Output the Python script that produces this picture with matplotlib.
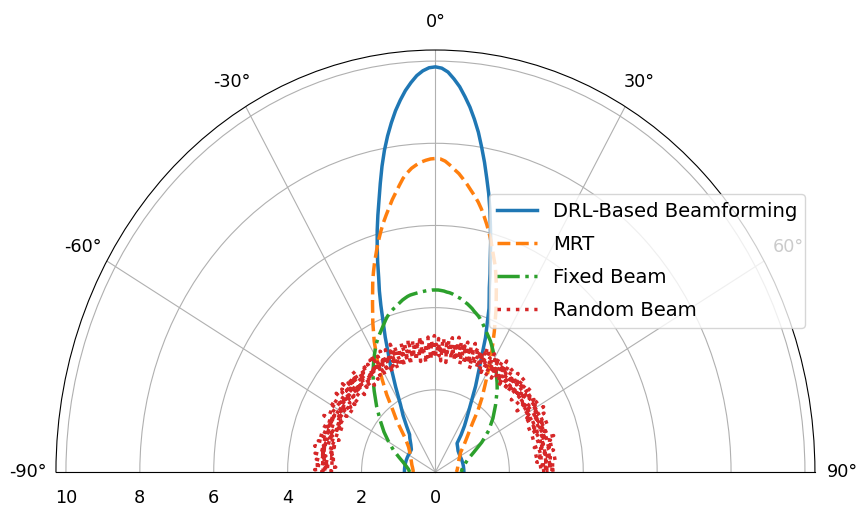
import numpy as np
import matplotlib
matplotlib.use("Agg")
import matplotlib.pyplot as plt

# ---- data ----
angles_deg = ([-90, -85, -80, -75, -70, -65, -60, -55, -50, -45, -40,
               -37.5, -35, -32.5, -30, -27.5, -25, -22.5]
              + list(range(-20, 21))
              + [22.5, 25, 27.5, 30, 32.5, 35, 37.5, 40,
                 45, 50, 55, 60, 65, 70, 75, 80, 85, 90])

drl = [0.84, 0.84, 0.84, 0.84, 0.84, 0.84, 0.84, 0.84, 0.85, 0.94, 1.08,
       1.15, 1.36, 1.63, 1.89, 2.33, 2.89, 3.55,
       4.32, 4.66, 4.97, 5.35, 5.72, 6.09, 6.44, 6.79, 7.18, 7.58, 7.95,
       8.28, 8.58, 8.86, 9.10, 9.32, 9.50, 9.66, 9.77, 9.84, 9.86,
       9.83, 9.74, 9.58, 9.40, 9.17, 8.93, 8.65, 8.35, 8.00, 7.65,
       7.28, 6.93, 6.55, 6.15, 5.78, 5.38, 5.05, 4.72, 4.47, 4.24,
       3.54, 2.83, 2.35, 1.90, 1.60, 1.37, 1.14, 0.91,
       0.85, 0.80, 0.78, 0.77, 0.77, 0.77, 0.77, 0.77, 0.77, 0.77]

mrt = [0.60, 0.61, 0.63, 0.66, 0.69, 0.73, 0.78, 0.85, 0.95, 1.15, 1.63,
       1.89, 2.30, 2.70, 3.15, 3.59, 4.01, 4.45,
       4.96, 5.15, 5.34, 5.52, 5.71, 5.89, 6.07, 6.24, 6.40, 6.56, 6.73,
       6.88, 7.04, 7.20, 7.32, 7.42, 7.49, 7.55, 7.59, 7.62, 7.63,
       7.62, 7.57, 7.48, 7.38, 7.29, 7.17, 7.05, 6.92, 6.80, 6.67,
       6.52, 6.35, 6.18, 6.00, 5.81, 5.61, 5.42, 5.25, 5.03, 4.82,
       4.29, 3.77, 3.30, 2.87, 2.49, 2.19, 1.89, 1.57,
       1.22, 1.00, 0.83, 0.76, 0.70, 0.66, 0.63, 0.61, 0.59, 0.57]

fixed = [0.70, 0.73, 0.80, 0.90, 1.05, 1.25, 1.46, 1.70, 1.95, 2.25, 2.58,
         2.76, 2.95, 3.12, 3.30, 3.49, 3.64, 3.78,
         3.94, 4.00, 4.05, 4.09, 4.13, 4.16, 4.20, 4.24, 4.28, 4.31, 4.34,
         4.36, 4.37, 4.38, 4.39, 4.40, 4.41, 4.42, 4.42, 4.43, 4.43,
         4.43, 4.42, 4.41, 4.39, 4.38, 4.36, 4.33, 4.30, 4.28, 4.25,
         4.21, 4.18, 4.14, 4.10, 4.05, 4.01, 3.97, 3.92, 3.86, 3.80,
         3.65, 3.52, 3.36, 3.20, 3.04, 2.88, 2.74, 2.60,
         2.30, 2.03, 1.76, 1.45, 1.15, 0.95, 0.84, 0.77, 0.72, 0.70]

random_beam = [
    3.12, 2.81, 3.27, 2.94, 3.05, 2.70, 3.31, 2.88, 3.18, 2.76, 3.02, 3.24, 2.91, 2.68, 3.15, 2.99, 3.29, 2.83, 3.08,
    2.73, 3.21, 2.95, 3.33, 2.86, 3.10, 2.69, 3.04, 3.26, 2.79, 2.97, 3.19, 2.84, 3.30, 2.72, 3.07, 2.92, 3.23, 2.77,
    3.14, 2.89, 3.01, 3.28, 2.74, 3.17, 2.93, 2.67, 3.22, 3.06, 2.85, 3.32, 2.98, 2.71, 3.11, 2.87, 3.25, 3.00, 2.80,
    3.20, 2.96, 2.75, 3.13, 3.34, 2.82, 3.03, 2.90, 3.27, 2.66, 3.09, 3.16, 2.78, 2.94, 3.30, 2.86, 3.05, 2.73, 3.19,
    2.99, 3.24, 2.70, 3.12, 2.88, 3.31, 2.95, 3.08, 2.76, 3.21, 2.84, 3.02, 3.28, 2.69, 3.15, 2.91, 3.26, 2.81, 3.04,
    3.33, 2.77, 3.10, 2.93, 3.18, 2.72, 3.00, 3.23, 2.87, 2.68, 3.14, 3.29, 2.83, 3.06, 2.97, 3.20, 2.74, 3.11, 2.90,
    3.25, 2.79, 3.03, 3.32, 2.85, 3.16, 2.71, 2.98, 3.22, 2.89, 3.07, 2.75, 3.30, 2.94, 3.13, 2.67, 3.01, 3.27, 2.82,
    3.09, 2.92, 3.19, 2.73, 3.34, 2.86, 3.05, 3.24, 2.78, 2.96, 3.17, 2.70, 3.12, 2.88, 3.28, 3.00, 2.80, 3.21, 2.95,
    2.69, 3.15, 3.31, 2.84, 3.02, 2.91, 3.26, 2.76, 3.10, 2.99, 3.23, 2.72, 3.06, 3.33, 2.87, 3.18, 2.93, 2.66, 3.14,
    3.04, 2.81, 3.29, 2.97, 2.74, 3.20, 3.08, 2.89, 3.32, 2.77, 3.11, 2.94, 3.25, 2.83, 3.01, 2.71, 3.16, 3.27, 2.90,
    2.85, 3.13, 2.68, 3.22, 3.03, 2.95, 3.30, 2.79, 3.07, 2.92, 3.19, 2.75, 3.34, 2.88, 3.00, 3.24, 2.82, 3.12, 2.70,
    3.17, 2.98, 3.28, 2.73, 3.09, 2.86, 3.21, 3.05, 2.78, 3.31, 2.93, 2.67, 3.14, 3.26, 2.84, 3.02, 2.96, 3.20, 2.76,
    3.10, 2.89, 3.33, 2.80, 3.06, 3.23, 2.72, 2.99, 3.15, 2.87, 3.29, 2.94, 2.69, 3.18, 3.04, 2.83, 3.27, 2.91, 3.08,
    2.74, 3.22, 3.01, 2.85, 3.32, 2.97, 3.13, 2.77, 3.25, 2.90, 3.07, 2.68, 3.19, 3.30, 2.81, 3.03, 2.95, 3.16, 2.71,
    3.28, 2.86, 3.11, 2.93, 2.75, 3.21, 3.05, 3.34, 2.79, 2.98, 3.14, 2.88, 3.24, 2.70, 3.09, 3.00, 2.84, 3.31, 2.92,
    3.17, 2.73, 3.02, 3.26, 2.89, 3.12, 2.96, 2.66, 3.20, 3.06, 2.82, 3.29, 2.94, 3.15, 2.77, 3.23, 2.99, 2.87, 3.33,
    2.80, 3.08, 3.19, 2.72, 3.27, 2.91, 3.04, 2.85, 3.22, 2.97, 3.13, 2.69, 3.30, 2.83, 3.01, 3.18, 2.76, 3.10, 2.95,
    3.25, 2.88, 2.71, 3.16, 3.03, 2.93, 3.32, 2.78, 3.09, 3.21, 2.86, 3.00, 2.74, 3.28, 2.90, 3.14, 3.07, 2.81, 3.24,
    2.98, 3.11, 2.68, 3.20, 2.84, 3.05, 3.31, 2.92, 2.75, 3.17, 3.02, 2.89, 3.26, 2.79, 3.12, 2.96, 3.29, 2.86, 3.06,
]

labels = ["DRL-Based Beamforming", "MRT", "Fixed Beam", "Random Beam"]
theta_ticks = [-90, -60, -30, 0, 30, 60, 90]
r_ticks = [0, 2, 4, 6, 8, 10]
r_max = 10.27

# ---- figure ----
fig = plt.figure(figsize=(8.57, 5.08), dpi=100)
# axes box is twice as tall as the half-disc so that the wedge fills 759x422 px
ax = fig.add_axes([0.0653, -0.3445, 0.8856, 1.6614], projection="polar")
ax.set_theta_zero_location("N")
ax.set_theta_direction(-1)
ax.set_thetamin(-90)
ax.set_thetamax(90)

th = np.deg2rad(angles_deg)
th_rand = np.deg2rad(np.linspace(-90, 90, len(random_beam)))

ax.plot(th, drl, color="C0", lw=2.5, ls="-", label=labels[0])
ax.plot(th, mrt, color="C1", lw=2.5, ls="--", label=labels[1])
ax.plot(th, fixed, color="C2", lw=2.5, ls="-.", label=labels[2])
ax.plot(th_rand, random_beam, color="C3", lw=2.5, ls=":", label=labels[3])

ax.set_ylim(0, r_max)
ax.set_yticks(r_ticks)
ax.set_thetagrids(theta_ticks, [f"{t}°" for t in theta_ticks])
ax.tick_params(axis="both", labelsize=12.7)
ax.tick_params(axis="x", pad=9.5)
ax.tick_params(axis="y", pad=8.5)
ax.set_aspect("auto")

ax.legend(loc="center right", bbox_to_anchor=(1.0, 0.5), fontsize=14.1,
          labelspacing=0.72, handlelength=2.05)

fig.savefig("out.png", dpi=100)
